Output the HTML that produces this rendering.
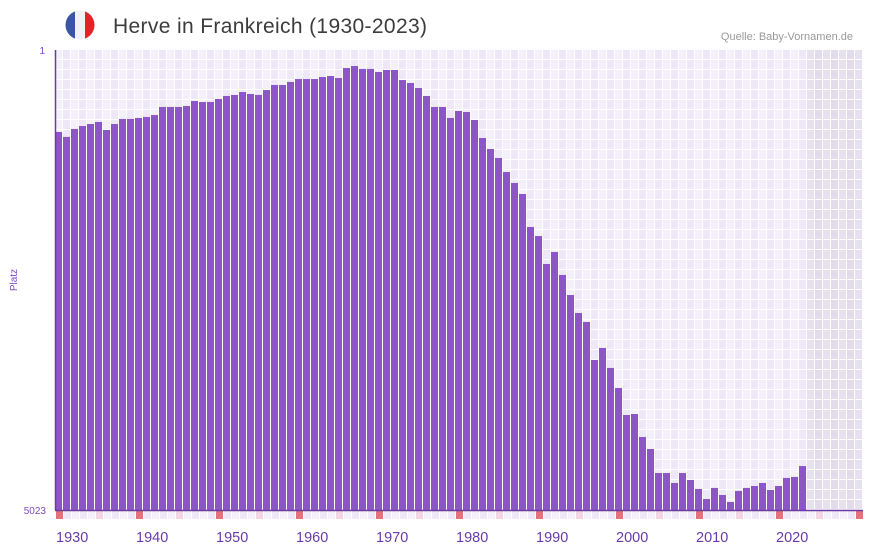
<!DOCTYPE html>
<html><head><meta charset="utf-8"><style>
html,body{margin:0;padding:0;background:#fff;width:873px;height:552px;overflow:hidden}
svg{display:block;font-family:"Liberation Sans",sans-serif}
</style></head><body>
<svg id="chart" width="873" height="552" viewBox="0 0 873 552">
  <g>
    <clipPath id="fc"><circle cx="80" cy="25" r="14.5"/></clipPath>
    <g clip-path="url(#fc)">
      <rect x="65" y="10" width="10" height="30" fill="#3a55a4"/>
      <rect x="75" y="10" width="10" height="30" fill="#f1f2f4"/>
      <rect x="85" y="10" width="10" height="30" fill="#e52229"/>
    </g>
  </g>
  <text x="113" y="33" font-size="21" textLength="314" fill="#3c3c3c">Herve in Frankreich (1930-2023)</text>
  <text x="853" y="40" font-size="11" fill="#999" text-anchor="end">Quelle: Baby-Vornamen.de</text>
  <text transform="translate(17,280) rotate(-90)" font-size="10" fill="#7a4bbf" text-anchor="middle">Platz</text>
  <text x="45" y="54" font-size="10" fill="#7a4bbf" text-anchor="end">1</text>
  <text x="46" y="514" font-size="10" fill="#7a4bbf" text-anchor="end">5023</text>
  <g id="grid"></g>
  <g id="bars"></g>
  <g id="markers"></g>
  <g id="xlabels"></g>
  <line x1="55.5" y1="50" x2="55.5" y2="510" stroke="#6a3aa8" stroke-width="1.5"/>
  <line x1="55" y1="510.5" x2="863" y2="510.5" stroke="#6a3aa8" stroke-width="1.5"/>
</svg>
<script>
const startYear = 1930;
const endYear = 2030;
const lastDataYear = 2023;
const rankMin = 1;
const rankMax = 5023;
const years = [];
for (let y = 1930; y <= 2023; y++) years.push(y);
const ranks = [896,950,863,831,809,787,874,809,754,754,
743,732,711,623,623,623,612,558,569,569,
536,503,492,460,481,492,438,383,383,350,
318,318,318,296,285,307,198,176,208,208,
241,219,219,329,361,416,503,623,623,743,
667,678,765,962,1082,1180,1333,1453,1573,1933,
2032,2337,2206,2457,2676,2872,2970,3385,3254,3472,
3691,3986,3975,4226,4357,4619,4619,4728,4619,4695,
4793,4903,4782,4859,4935,4815,4782,4761,4728,4804,
4761,4673,4662,4543];
const tickYears = [1930,1940,1950,1960,1970,1980,1990,2000,2010,2020];

const X0 = 55, STEP = 8, Y0 = 50, Y1 = 510;
const xs = y => X0 + (y - startYear) * STEP;
const ys = r => Y0 + (r - rankMin) / (rankMax - rankMin) * (Y1 - Y0);
const NS = "http://www.w3.org/2000/svg";
function mk(tag, attrs){const e=document.createElementNS(NS,tag);for(const k in attrs)e.setAttribute(k,attrs[k]);return e;}

const grid = document.getElementById('grid');
for (let y = startYear; y <= endYear; y++) {
  const future = y > lastDataYear;
  for (let r = 0; r < 46; r++) {
    const col = future ? ((y % 2) ? '#e2dcea' : '#e6e1ee') : ((y % 2) ? '#ede7f8' : '#f3effb');
    const c = mk('rect',{x:xs(y),y:Y0+r*10,width:7,height:9,fill:col});
    
    
    grid.appendChild(c);
  }
  const mcol = (y % 10 === 0) ? '#e57278' : (y % 10 === 5) ? '#f4d6e2' : ((y % 2) ? '#ede7f8' : '#f3effb');
  const m = mk('rect',{x:xs(y)+1,y:511,width:7,height:8,fill:mcol});
  
  
  document.getElementById('markers').appendChild(m);
}

const bars = document.getElementById('bars');
years.forEach((yr, i) => {
  const top = ys(ranks[i]);
  const b = mk('rect',{x:xs(yr),y:top,width:7,height:Y1-top,fill:'#8c55c8'});
  
  
  bars.appendChild(b);
});

const xl = document.getElementById('xlabels');
tickYears.forEach(t => {
  const tx = mk('text',{x:xs(t)+1,y:542,'font-size':14.5,fill:'#6a3aa8'});
  tx.textContent = t;
  
  
  xl.appendChild(tx);
});
</script>
</body></html>
